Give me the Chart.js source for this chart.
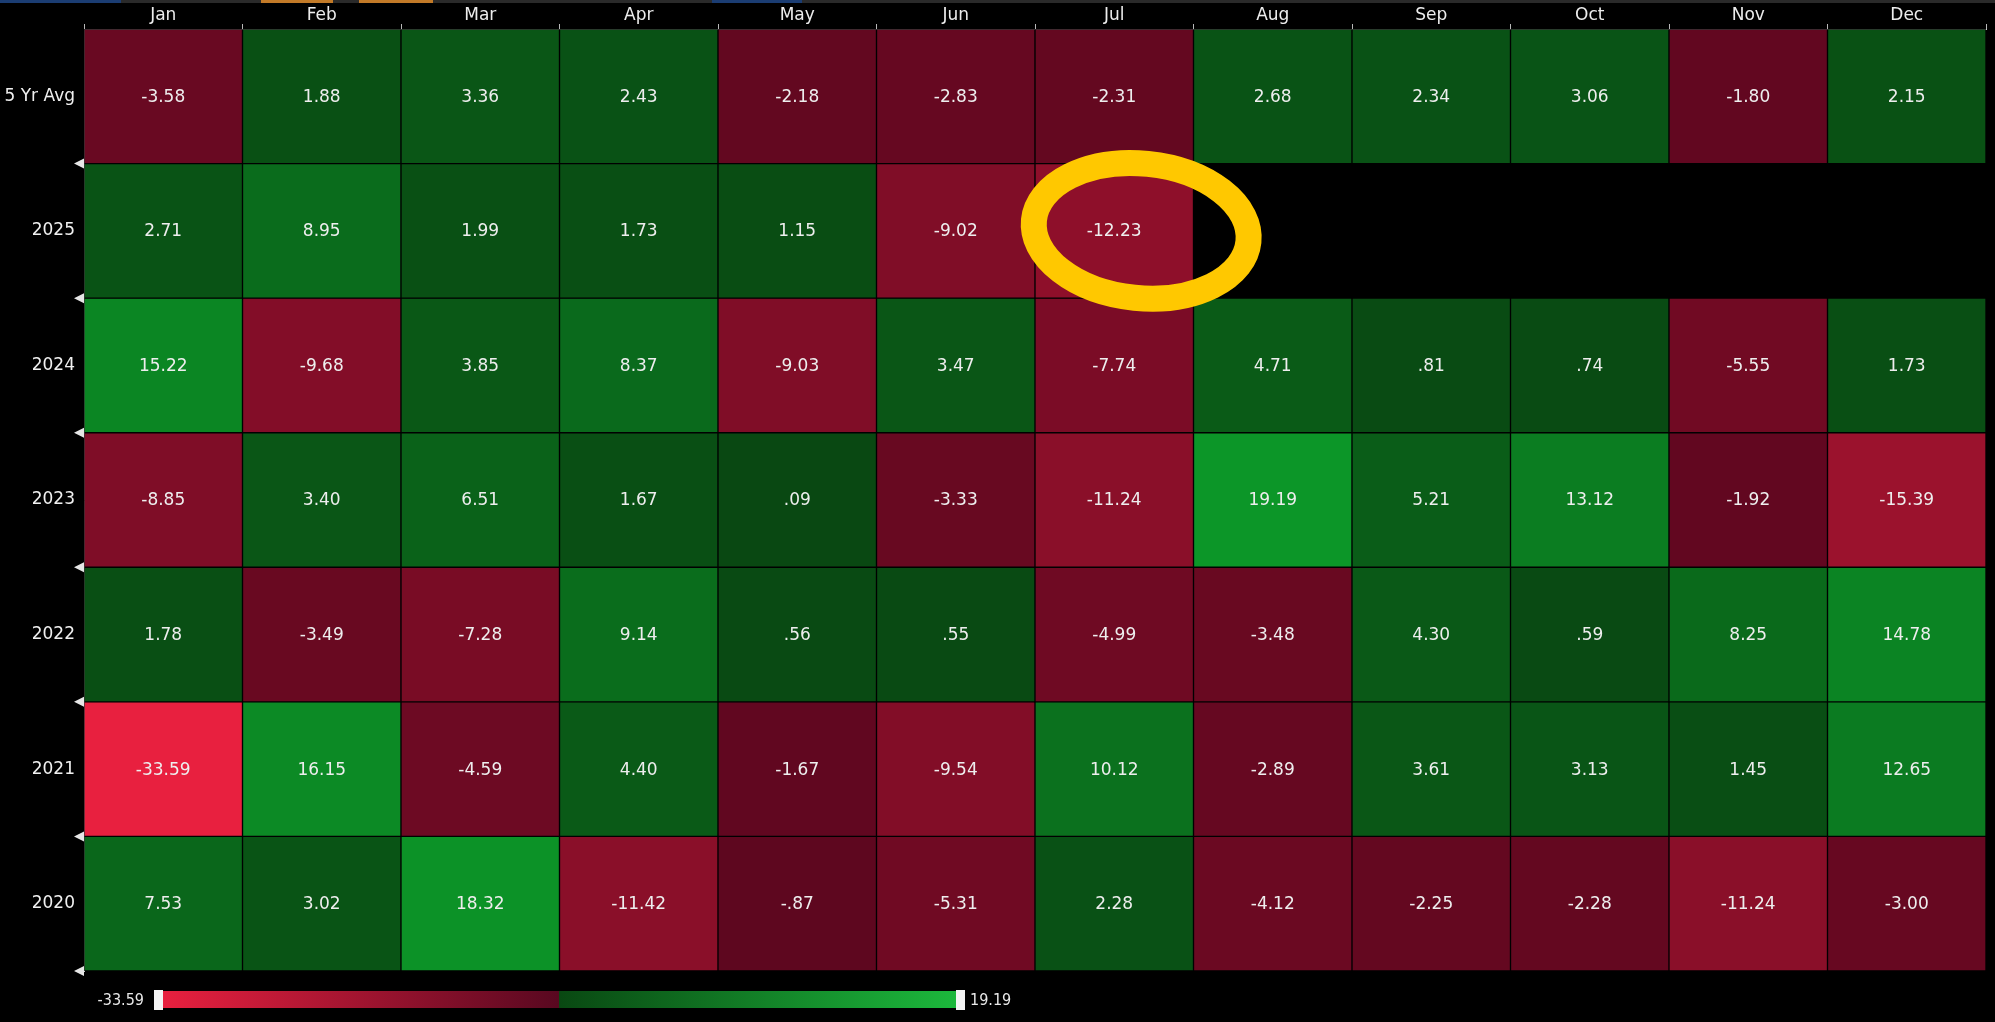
<!DOCTYPE html>
<html>
<head>
<meta charset="utf-8">
<script src="https://cdn.jsdelivr.net/npm/chart.js@4"></script>
<style>
html,body{margin:0;padding:0;background:#000;}
canvas{display:block;}
</style>
</head>
<body>
<canvas id="c" width="1995" height="1022"></canvas>
<script>
const months = ["Jan","Feb","Mar","Apr","May","Jun","Jul","Aug","Sep","Oct","Nov","Dec"];
const rowLabels = ["5 Yr Avg","2025","2024","2023","2022","2021","2020"];

const avg5  = [-3.58, 1.88, 3.36, 2.43, -2.18, -2.83, -2.31, 2.68, 2.34, 3.06, -1.80, 2.15];
const y2025 = [2.71, 8.95, 1.99, 1.73, 1.15, -9.02, -12.23, null, null, null, null, null];
const y2024 = [15.22, -9.68, 3.85, 8.37, -9.03, 3.47, -7.74, 4.71, 0.81, 0.74, -5.55, 1.73];
const y2023 = [-8.85, 3.40, 6.51, 1.67, 0.09, -3.33, -11.24, 19.19, 5.21, 13.12, -1.92, -15.39];
const y2022 = [1.78, -3.49, -7.28, 9.14, 0.56, 0.55, -4.99, -3.48, 4.30, 0.59, 8.25, 14.78];
const y2021 = [-33.59, 16.15, -4.59, 4.40, -1.67, -9.54, 10.12, -2.89, 3.61, 3.13, 1.45, 12.65];
const y2020 = [7.53, 3.02, 18.32, -11.42, -0.87, -5.31, 2.28, -4.12, -2.25, -2.28, -11.24, -3.00];

const rowValues = [avg5, y2025, y2024, y2023, y2022, y2021, y2020];
const highlight = {row: 1, col: 6};

const allVals = rowValues.flat().filter(v => v !== null);
const minVal = Math.min(...allVals);
const maxVal = Math.max(...allVals);

function lerp(a, b, t) {
  return a.map((x, i) => Math.round(x + (b[i] - x) * t));
}
function colorFor(v) {
  if (v === null) return 'rgba(0,0,0,0)';
  let c;
  if (v < 0) c = lerp([90, 6, 30], [232, 32, 63], v / minVal);
  else c = lerp([9, 72, 18], [12, 150, 40], v / maxVal);
  return 'rgb(' + c.join(',') + ')';
}
function fmt(v) {
  let s = Math.abs(v).toFixed(2);
  if (s.startsWith('0.')) s = s.slice(1);
  return (v < 0 ? '-' : '') + s;
}

const datasets = rowValues.map((vals, r) => ({
  label: rowLabels[r],
  data: vals.map(v => v === null ? null : [r, r + 1]),
  values: vals,
  backgroundColor: vals.map(colorFor),
  borderColor: 'rgba(0,0,0,0.75)',
  borderWidth: 1,
  borderSkipped: false,
  barPercentage: 1,
  categoryPercentage: 1,
  grouped: false
}));

const FONT = "'DejaVu Sans', sans-serif";

const cellLabels = {
  id: 'cellLabels',
  afterDatasetsDraw(chart) {
    const ctx = chart.ctx;
    ctx.save();
    ctx.font = "17px " + FONT;
    ctx.fillStyle = '#eeeeee';
    ctx.textAlign = 'center';
    ctx.textBaseline = 'middle';
    chart.data.datasets.forEach((ds, di) => {
      const meta = chart.getDatasetMeta(di);
      meta.data.forEach((el, i) => {
        const v = ds.values[i];
        if (v === null || v === undefined) return;
        const p = el.getCenterPoint();
        ctx.fillText(fmt(v), p.x, p.y + 1);
      });
    });
    ctx.restore();
  }
};

const decorations = {
  id: 'decorations',
  afterDraw(chart) {
    const ctx = chart.ctx;
    const xs = chart.scales.x, ys = chart.scales.y;
    const area = chart.chartArea;
    ctx.save();
    // top window strip
    ctx.fillStyle = '#2a2a2a';
    ctx.fillRect(0, 0, chart.width, 3);
    ctx.fillStyle = '#1b3d73';
    ctx.fillRect(0, 0, 121, 3);
    ctx.fillRect(712, 0, 90, 3);
    ctx.fillStyle = '#c27a28';
    ctx.fillRect(261, 0, 72, 3);
    ctx.fillRect(359, 0, 74, 3);

    // left row markers
    ctx.fillStyle = '#e6e6e6';
    for (let i = 1; i <= rowLabels.length; i++) {
      const y = ys.getPixelForValue(i);
      ctx.beginPath();
      ctx.moveTo(area.left - 10, y);
      ctx.lineTo(area.left, y - 5);
      ctx.lineTo(area.left, y + 5);
      ctx.closePath();
      ctx.fill();
    }

    // color bar
    const bx0 = area.left + 79, bx1 = area.left + 872;
    const by = area.bottom + 20, bh = 17;
    const g = ctx.createLinearGradient(bx0, 0, bx1, 0);
    g.addColorStop(0, 'rgb(232,32,63)');
    g.addColorStop(0.5, 'rgb(88,8,32)');
    g.addColorStop(0.5, 'rgb(9,72,18)');
    g.addColorStop(1, 'rgb(28,184,60)');
    ctx.fillStyle = g;
    ctx.fillRect(bx0, by, bx1 - bx0, bh);
    ctx.fillStyle = '#f4f4f4';
    ctx.fillRect(bx0 - 9, by - 1, 9, bh + 3);
    ctx.fillRect(bx1, by - 1, 9, bh + 3);
    ctx.font = "16px 'DejaVu Sans Condensed', 'Liberation Sans Narrow', sans-serif";
    ctx.fillStyle = '#e8e8e8';
    ctx.textBaseline = 'middle';
    ctx.textAlign = 'right';
    ctx.fillText(minVal.toFixed(2), bx0 - 19, by + bh / 2 + 1);
    ctx.textAlign = 'left';
    ctx.fillText(maxVal.toFixed(2), bx1 + 14, by + bh / 2 + 1);

    // yellow hand-drawn loop around the highlighted cell
    const cw = xs.getPixelForValue(1) - xs.getPixelForValue(0);
    const rh = ys.getPixelForValue(1) - ys.getPixelForValue(0);
    const cx = xs.getPixelForValue(highlight.col) + cw * 0.17;
    const cy = ys.getPixelForValue(highlight.row + 0.5);
    ctx.strokeStyle = '#ffc800';
    ctx.lineWidth = 26;
    ctx.lineCap = 'round';
    ctx.beginPath();
    ctx.ellipse(cx, cy, cw * 0.68, rh * 0.5, 0.1, 0, Math.PI * 2);
    ctx.stroke();
    ctx.restore();
  }
};

new Chart(document.getElementById('c'), {
  type: 'bar',
  data: { labels: months, datasets: datasets },
  options: {
    responsive: false,
    animation: false,
    layout: { padding: { left: 0, top: 0, right: 9, bottom: 51 } },
    plugins: { legend: { display: false }, tooltip: { enabled: false } },
    scales: {
      x: {
        position: 'top',
        offset: true,
        grid: { display: true, drawOnChartArea: false, drawTicks: true, tickLength: 5, color: '#b8b8b8', offset: true },
        border: { display: true, color: '#d0d0d0', width: 1 },
        ticks: { color: '#ededed', font: { family: FONT, size: 17 }, padding: -2, maxRotation: 0 },
        afterFit(scale) { scale.height = 29; }
      },
      y: {
        type: 'linear',
        min: 0,
        max: rowLabels.length,
        reverse: true,
        grid: { display: false, drawTicks: false, tickLength: 0 },
        border: { display: true, color: '#d0d0d0', width: 1 },
        afterBuildTicks(scale) {
          scale.ticks = rowLabels.map((_, i) => ({ value: i + 0.5 }));
        },
        ticks: {
          autoSkip: false,
          color: '#f0f0f0',
          font: { family: FONT, size: 17 },
          padding: 9,
          callback: (v) => rowLabels[Math.floor(v)]
        },
        afterFit(scale) { scale.width = 84; }
      }
    }
  },
  plugins: [cellLabels, decorations]
});
</script>
</body>
</html>
